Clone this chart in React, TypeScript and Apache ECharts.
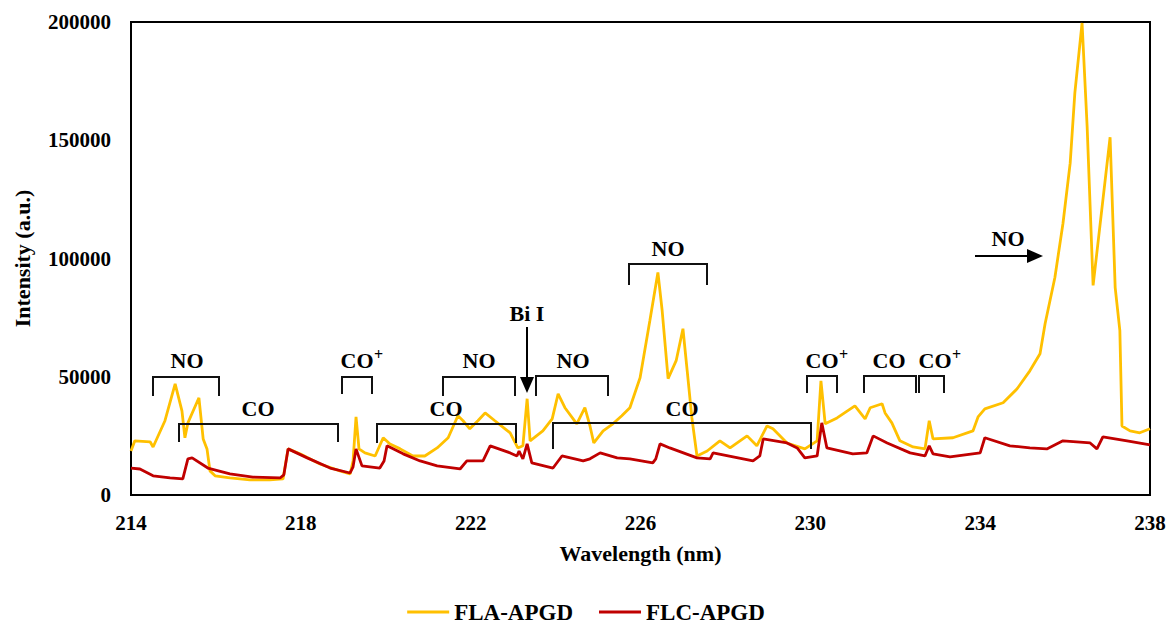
import React, { useEffect, useRef } from "react";
import * as echarts from "echarts";

// ---- data ----
const xMin = 214;
const xMax = 238;
const xStep = 4;
const yMin = 0;
const yMax = 200000;
const yStep = 50000;

const seriesNames = ["FLA-APGD", "FLC-APGD"];

const flaWavelength = [
  214.0, 214.09, 214.45, 214.52, 214.8, 215.04, 215.2, 215.27, 215.34, 215.6, 215.7, 215.79, 215.86,
  215.98, 216.33, 216.8, 217.27, 217.58, 217.7, 217.98, 218.45, 218.92, 219.16, 219.23, 219.3, 219.37,
  219.51, 219.75, 219.94, 220.1, 220.34, 220.64, 220.92, 221.21, 221.47, 221.7, 221.82, 221.98, 222.17,
  222.34, 222.57, 222.81, 222.93, 223.11, 223.23, 223.33, 223.4, 223.7, 223.92, 224.06, 224.22, 224.5,
  224.69, 224.81, 224.9, 225.12, 225.35, 225.56, 225.75, 225.99, 226.22, 226.41, 226.51, 226.65, 226.84,
  227.0, 227.1, 227.21, 227.33, 227.57, 227.87, 228.11, 228.51, 228.74, 228.98, 229.12, 229.45, 229.87,
  230.16, 230.25, 230.35, 230.63, 231.05, 231.29, 231.41, 231.69, 231.76, 231.92, 232.11, 232.42, 232.7,
  232.8, 232.89, 233.36, 233.83, 233.95, 234.11, 234.54, 234.87, 235.17, 235.41, 235.53, 235.76, 235.95,
  236.12, 236.23, 236.4, 236.52, 236.66, 237.06, 237.18, 237.29, 237.34, 237.53, 237.76, 238.0,
];
const flaIntensity = [
  18600, 22900, 22500, 20300, 31400, 47000, 35600, 24200, 30500, 41100, 23700, 19500, 10200,
  8100, 7200, 6400, 6400, 6800, 19500, 17400, 13100, 10200, 8900, 14400, 33000, 19500,
  17800, 16500, 24200, 21600, 19500, 16500, 16500, 19900, 24200, 33500, 31400, 28000, 31400,
  34700, 31400, 28000, 26300, 19900, 20800, 40700, 22900, 27100, 32200, 42800, 36900, 30100,
  36900, 29200, 22000, 27100, 30100, 33500, 36900, 49600, 73700, 94100, 78000, 49200, 56800,
  70300, 52500, 32600, 16500, 18600, 22900, 19900, 25000, 20800, 29200, 28000, 22000, 19500,
  22900, 48300, 30100, 32600, 37700, 32200, 36900, 38600, 34700, 30500, 22900, 20300, 19500,
  31400, 23700, 24200, 27100, 33000, 36400, 39000, 44900, 52500, 59700, 72500, 92000, 114800,
  140300, 170000, 199600, 155500, 88600, 151300, 87700, 69500, 29200, 27100, 26300, 28000,
];

const flcWavelength = [
  214.0, 214.21, 214.52, 214.92, 215.22, 215.34, 215.44, 215.81, 216.33, 216.87, 217.51, 217.6, 217.7,
  218.15, 218.69, 219.16, 219.23, 219.3, 219.44, 219.86, 219.96, 220.03, 220.41, 220.81, 221.21, 221.75,
  221.91, 222.29, 222.46, 222.93, 223.09, 223.14, 223.23, 223.33, 223.44, 223.94, 224.15, 224.65, 224.81,
  225.05, 225.45, 225.75, 226.29, 226.36, 226.46, 226.69, 227.33, 227.64, 227.71, 228.65, 228.81, 228.89,
  229.45, 229.69, 229.87, 230.16, 230.27, 230.39, 231.0, 231.33, 231.48, 231.81, 232.35, 232.7, 232.8,
  232.89, 233.29, 234.0, 234.11, 234.7, 235.17, 235.57, 235.95, 236.59, 236.75, 236.89, 237.46, 238.0,
];
const flcIntensity = [
  11400, 11000, 8100, 7200, 6800, 15300, 15700, 11400, 8900, 7600, 7200, 8500, 19500,
  15700, 11400, 9300, 11900, 19500, 12300, 11400, 14400, 20800, 17400, 14400, 12300, 11000,
  14400, 14400, 20800, 17800, 16500, 18600, 15300, 21600, 13600, 11400, 16500, 14400, 15300,
  17800, 15700, 15300, 13600, 15300, 21600, 19900, 15700, 15300, 17800, 14400, 16500, 23700,
  22000, 19900, 15700, 16500, 30500, 19900, 17400, 17800, 25000, 22000, 17800, 16500, 20800,
  17400, 16100, 17800, 24200, 20800, 19900, 19500, 22900, 22000, 19500, 24600, 22900, 21200,
];

// ---- annotations (pixel layout) ----
const FONT = '"Liberation Serif", "Times New Roman", serif';

type Bracket = { x1: number; x2: number; top: number; leg: number; label: string; lx: number; ly: number; plus?: boolean };
const brackets: Bracket[] = [
  { x1: 153, x2: 219, top: 377, leg: 396, label: "NO", lx: 187, ly: 360 },
  { x1: 179, x2: 338, top: 424, leg: 442, label: "CO", lx: 258, ly: 408 },
  { x1: 342, x2: 372, top: 377, leg: 394, label: "CO", lx: 357, ly: 360, plus: true },
  { x1: 377, x2: 516, top: 424, leg: 443, label: "CO", lx: 446, ly: 408 },
  { x1: 443, x2: 515, top: 377, leg: 396, label: "NO", lx: 479, ly: 360 },
  { x1: 536, x2: 608, top: 376, leg: 396, label: "NO", lx: 573, ly: 360 },
  { x1: 553, x2: 811, top: 423, leg: 449, label: "CO", lx: 682, ly: 408 },
  { x1: 629, x2: 707, top: 264, leg: 285, label: "NO", lx: 668, ly: 248 },
  { x1: 807, x2: 837, top: 376, leg: 393, label: "CO", lx: 822, ly: 360, plus: true },
  { x1: 864, x2: 916, top: 376, leg: 393, label: "CO", lx: 889, ly: 360 },
  { x1: 919, x2: 944, top: 376, leg: 393, label: "CO", lx: 935, ly: 360, plus: true },
];

function buildGraphics() {
  const els: any[] = [];
  const lineStyle = { stroke: "#111", lineWidth: 2, fill: null };
  const textStyle = (text: string, x: number, y: number, size = 22) => ({
    type: "text",
    x,
    y,
    style: {
      text,
      fill: "#000",
      font: `bold ${size}px ${FONT}`,
      align: "center",
      verticalAlign: "middle",
    },
    z: 100,
  });
  brackets.forEach((b) => {
    els.push({
      type: "polyline",
      shape: { points: [[b.x1, b.leg], [b.x1, b.top], [b.x2, b.top], [b.x2, b.leg]] },
      style: lineStyle,
      z: 100,
    });
    els.push(textStyle(b.label, b.lx, b.ly));
    if (b.plus) {
      els.push({
        type: "text",
        x: b.lx + 17,
        y: b.ly - 6,
        style: { text: "+", fill: "#000", font: `bold 16px ${FONT}`, align: "left", verticalAlign: "middle" },
        z: 100,
      });
    }
  });
  // Bi I arrow
  els.push(textStyle("Bi I", 527, 313));
  els.push({ type: "line", shape: { x1: 527, y1: 327, x2: 527, y2: 380 }, style: { stroke: "#000", lineWidth: 2 }, z: 100 });
  els.push({ type: "polygon", shape: { points: [[520, 377], [534, 377], [527, 393]] }, style: { fill: "#000" }, z: 100 });
  // NO arrow
  els.push(textStyle("NO", 1008, 238));
  els.push({ type: "line", shape: { x1: 975, y1: 256, x2: 1030, y2: 256 }, style: { stroke: "#000", lineWidth: 2 }, z: 100 });
  els.push({ type: "polygon", shape: { points: [[1027, 249], [1027, 263], [1043, 256]] }, style: { fill: "#000" }, z: 100 });
  return els;
}

export default function App() {
  const ref = useRef<HTMLDivElement>(null);
  useEffect(() => {
    if (!ref.current) return;
    const chart = echarts.init(ref.current, undefined, { renderer: "svg" });
    const fla = flaWavelength.map((w, i) => [w, flaIntensity[i]]);
    const flc = flcWavelength.map((w, i) => [w, flcIntensity[i]]);
    const tickFont = { color: "#000", fontFamily: FONT, fontWeight: "bold" as const, fontSize: 21 };
    chart.setOption({
      animation: false,
      backgroundColor: "#fff",
      grid: {
        left: 131,
        top: 22,
        width: 1019,
        height: 473,
        show: true,
        borderColor: "#000",
        borderWidth: 2,
        containLabel: false,
      },
      xAxis: {
        type: "value",
        min: xMin,
        max: xMax,
        interval: xStep,
        name: "Wavelength (nm)",
        nameLocation: "middle",
        nameGap: 47,
        nameTextStyle: { ...tickFont, fontSize: 22 },
        axisLine: { show: true, lineStyle: { color: "#000", width: 2 } },
        axisTick: { show: false },
        splitLine: { show: false },
        axisLabel: { ...tickFont, margin: 17, formatter: (v: number) => String(v) },
      },
      yAxis: {
        type: "value",
        min: yMin,
        max: yMax,
        interval: yStep,
        name: "Intensity (a.u.)",
        nameLocation: "middle",
        nameGap: 98,
        nameTextStyle: { ...tickFont, fontSize: 22 },
        axisLine: { show: true, lineStyle: { color: "#000", width: 2 } },
        axisTick: { show: false },
        splitLine: { show: false },
        axisLabel: { ...tickFont, margin: 20, formatter: (v: number) => String(v) },
      },
      legend: {
        data: seriesNames,
        left: "center",
        top: 600,
        padding: 0,
        icon: "rect",
        itemWidth: 42,
        itemHeight: 3,
        itemGap: 26,
        textStyle: { color: "#000", fontFamily: FONT, fontWeight: "bold", fontSize: 23, lineHeight: 24 },
      },
      series: [
        {
          name: seriesNames[0],
          type: "line",
          data: fla,
          symbol: "none",
          lineStyle: { color: "#FFC000", width: 2.8 },
          itemStyle: { color: "#FFC000" },
        },
        {
          name: seriesNames[1],
          type: "line",
          data: flc,
          symbol: "none",
          lineStyle: { color: "#C00000", width: 2.8 },
          itemStyle: { color: "#C00000" },
        },
      ],
      graphic: buildGraphics(),
    });
    return () => chart.dispose();
  }, []);
  return (
    <div
      ref={ref}
      style={{ position: "fixed", left: 0, top: 0, width: 1172, height: 628, background: "#fff" }}
    />
  );
}
